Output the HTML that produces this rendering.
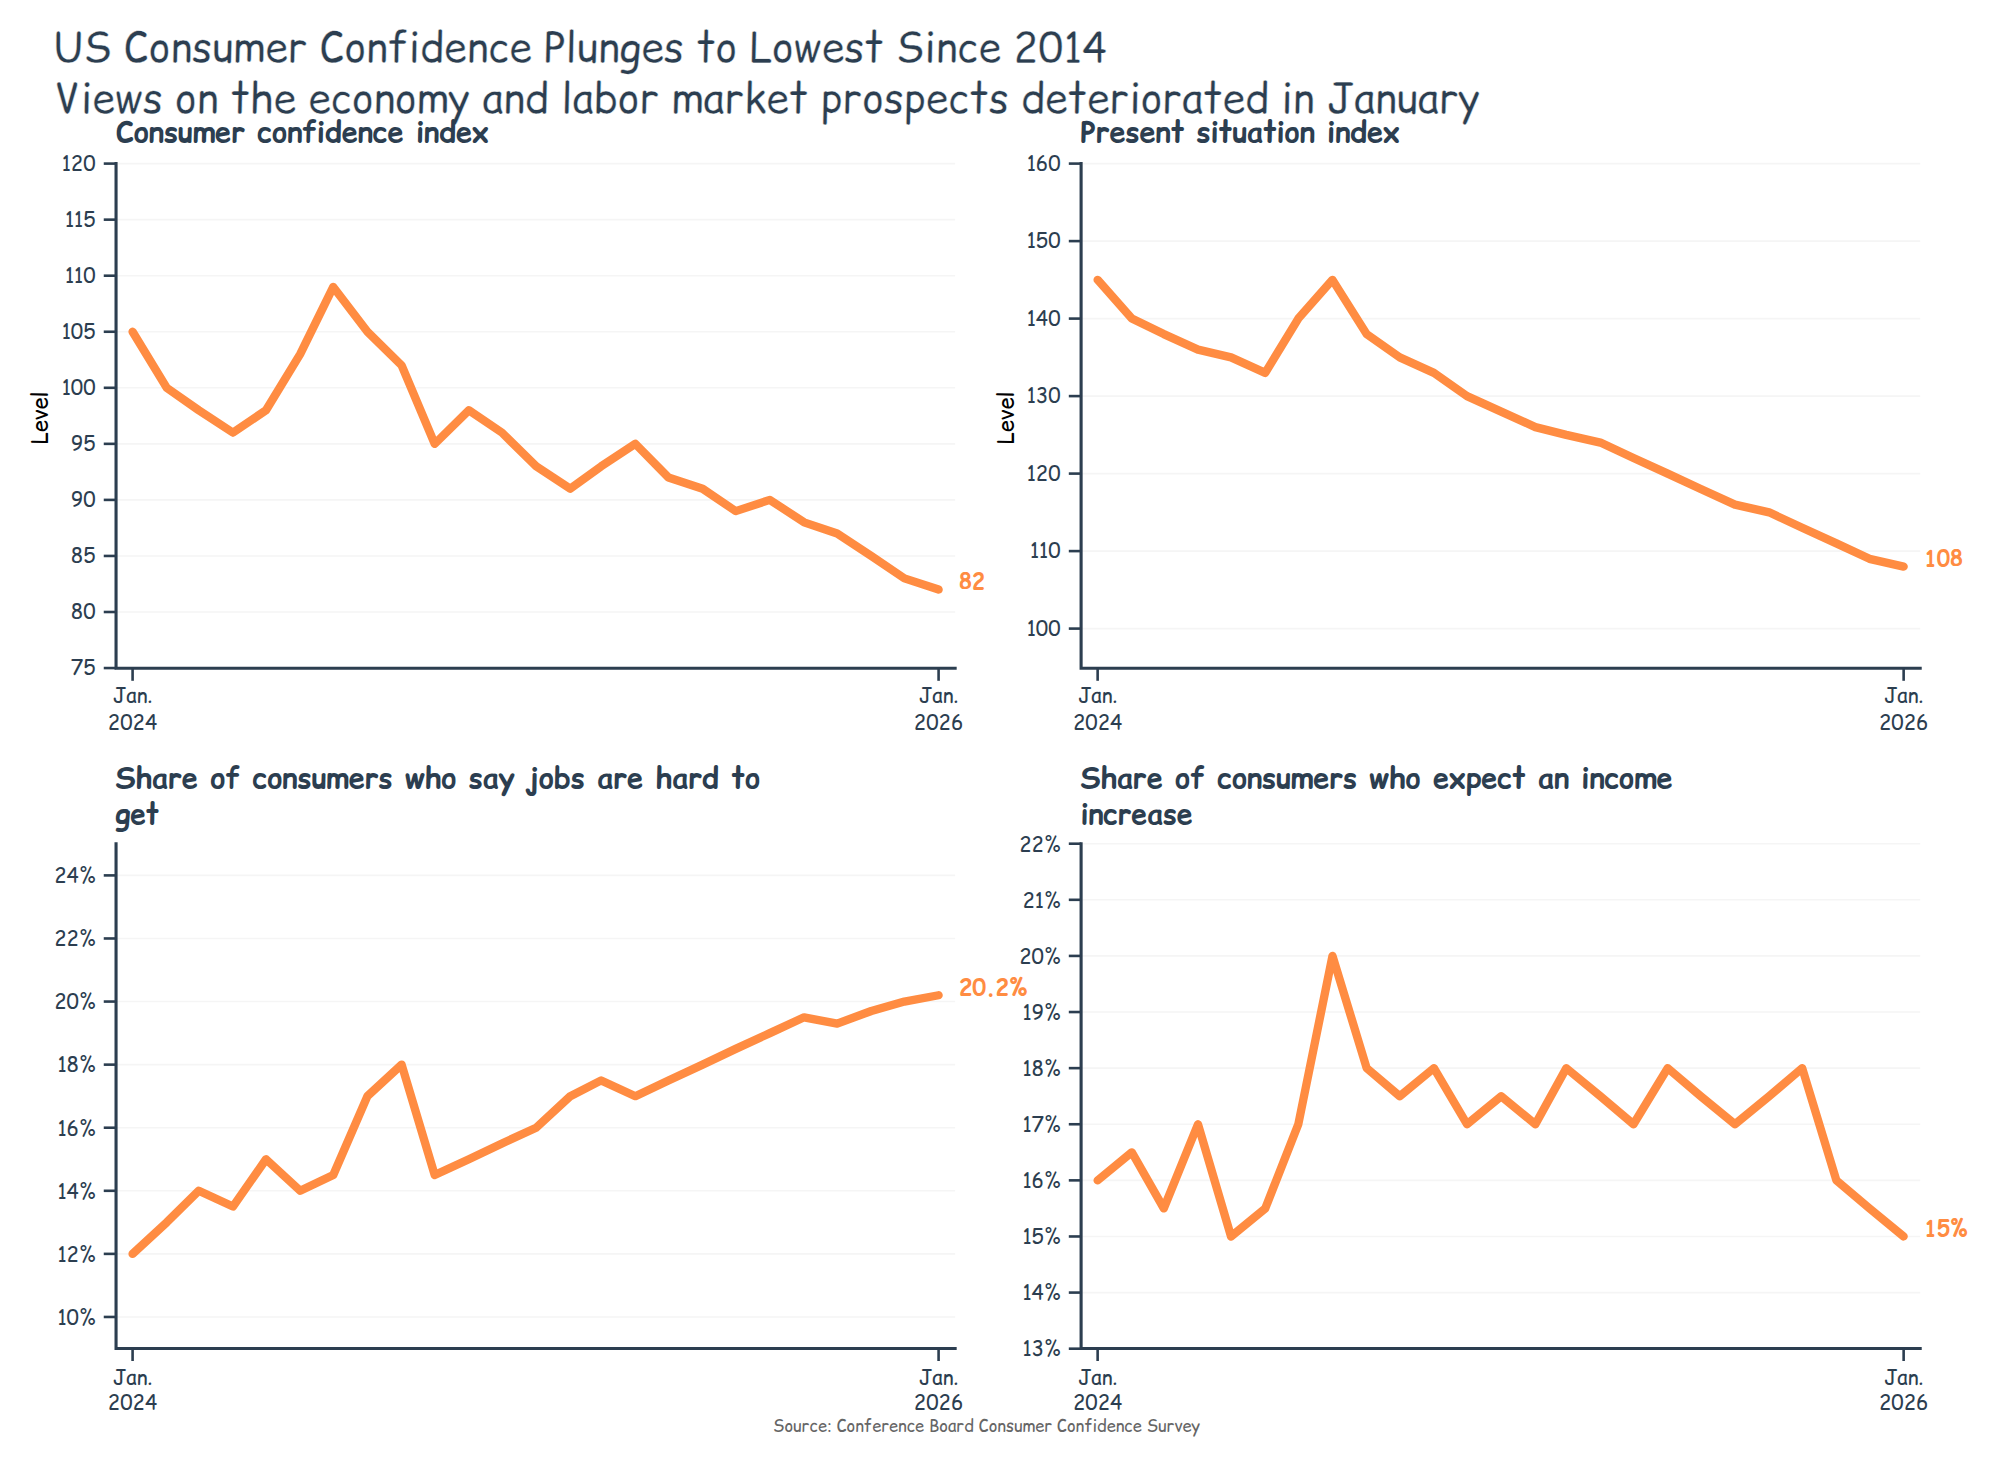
<!DOCTYPE html>
<html><head><meta charset="utf-8"><title>US Consumer Confidence Plunges to Lowest Since 2014</title>
<style>
html,body{margin:0;padding:0;background:#fff;}
svg{display:block;}
text{font-family:'Comic Relief', 'Comic Neue', 'Liberation Sans', sans-serif;}
.t1{font-size:42.3px;fill:#2c3e50;stroke:#fff;stroke-width:0.4px;}
.st{font-size:29.17px;font-weight:bold;fill:#2c3e50;}
.tk{font-size:21.5px;fill:#2c3e50;}
.lab{font-size:22.0px;font-weight:bold;fill:#ff8c42;}
.yl{font-size:22.5px;fill:#000;}
.src{font-size:16.67px;fill:#666;}
</style></head>
<body>
<svg width="1999" height="1467" viewBox="0 0 1999 1467">
<rect width="1999" height="1467" fill="#fff"/>
<text x="53" y="62" class="t1" textLength="1054" lengthAdjust="spacingAndGlyphs">US Consumer Confidence Plunges to Lowest Since 2014</text>
<text x="54" y="113" class="t1" textLength="1426" lengthAdjust="spacingAndGlyphs">Views on the economy and labor market prospects deteriorated in January</text>
<text x="116" y="142.3" class="st" textLength="373" lengthAdjust="spacingAndGlyphs">Consumer confidence index</text>
<text x="1080.5" y="142.3" class="st" textLength="319.5" lengthAdjust="spacingAndGlyphs">Present situation index</text>
<text x="115.5" y="788" class="st" textLength="644.5" lengthAdjust="spacingAndGlyphs">Share of consumers who say jobs are hard to</text>
<text x="115.5" y="823.5" class="st" textLength="43.5" lengthAdjust="spacingAndGlyphs">get</text>
<text x="1080.5" y="788" class="st" textLength="592" lengthAdjust="spacingAndGlyphs">Share of consumers who expect an income</text>
<text x="1080.5" y="823.5" class="st" textLength="112" lengthAdjust="spacingAndGlyphs">increase</text>
<line x1="116.05" y1="668.05" x2="955.13" y2="668.05" stroke="#f5f5f5" stroke-width="1.6"/>
<line x1="116.05" y1="612.00" x2="955.13" y2="612.00" stroke="#f5f5f5" stroke-width="1.6"/>
<line x1="116.05" y1="555.95" x2="955.13" y2="555.95" stroke="#f5f5f5" stroke-width="1.6"/>
<line x1="116.05" y1="499.90" x2="955.13" y2="499.90" stroke="#f5f5f5" stroke-width="1.6"/>
<line x1="116.05" y1="443.85" x2="955.13" y2="443.85" stroke="#f5f5f5" stroke-width="1.6"/>
<line x1="116.05" y1="387.80" x2="955.13" y2="387.80" stroke="#f5f5f5" stroke-width="1.6"/>
<line x1="116.05" y1="331.75" x2="955.13" y2="331.75" stroke="#f5f5f5" stroke-width="1.6"/>
<line x1="116.05" y1="275.70" x2="955.13" y2="275.70" stroke="#f5f5f5" stroke-width="1.6"/>
<line x1="116.05" y1="219.65" x2="955.13" y2="219.65" stroke="#f5f5f5" stroke-width="1.6"/>
<line x1="116.05" y1="163.60" x2="955.13" y2="163.60" stroke="#f5f5f5" stroke-width="1.6"/>
<polyline points="132.59,331.75 166.77,387.80 198.75,410.22 232.93,432.64 266.00,410.22 300.18,354.17 333.26,286.91 367.44,331.75 401.62,365.38 434.70,443.85 468.88,410.22 501.96,432.64 536.14,466.27 570.32,488.69 601.19,466.27 635.37,443.85 668.45,477.48 702.63,488.69 735.71,511.11 769.89,499.90 804.07,522.32 837.15,533.53 871.33,555.95 904.41,578.37 938.59,589.58" fill="none" stroke="#ff8c42" stroke-width="8.33" stroke-linecap="round" stroke-linejoin="round"/>
<path d="M116.05,163.60 L116.05,668.30 L955.13,668.30" fill="none" stroke="#2c3e50" stroke-width="3.1" stroke-linecap="square" stroke-linejoin="miter"/>
<line x1="103.75" y1="668.05" x2="116.05" y2="668.05" stroke="#2c3e50" stroke-width="2.6"/>
<text transform="translate(95.55,675.05) scale(0.943,1)" class="tk" text-anchor="end">75</text>
<line x1="103.75" y1="612.00" x2="116.05" y2="612.00" stroke="#2c3e50" stroke-width="2.6"/>
<text transform="translate(95.55,619.00) scale(0.943,1)" class="tk" text-anchor="end">80</text>
<line x1="103.75" y1="555.95" x2="116.05" y2="555.95" stroke="#2c3e50" stroke-width="2.6"/>
<text transform="translate(95.55,562.95) scale(0.943,1)" class="tk" text-anchor="end">85</text>
<line x1="103.75" y1="499.90" x2="116.05" y2="499.90" stroke="#2c3e50" stroke-width="2.6"/>
<text transform="translate(95.55,506.90) scale(0.943,1)" class="tk" text-anchor="end">90</text>
<line x1="103.75" y1="443.85" x2="116.05" y2="443.85" stroke="#2c3e50" stroke-width="2.6"/>
<text transform="translate(95.55,450.85) scale(0.943,1)" class="tk" text-anchor="end">95</text>
<line x1="103.75" y1="387.80" x2="116.05" y2="387.80" stroke="#2c3e50" stroke-width="2.6"/>
<text transform="translate(95.55,394.80) scale(0.943,1)" class="tk" text-anchor="end">100</text>
<line x1="103.75" y1="331.75" x2="116.05" y2="331.75" stroke="#2c3e50" stroke-width="2.6"/>
<text transform="translate(95.55,338.75) scale(0.943,1)" class="tk" text-anchor="end">105</text>
<line x1="103.75" y1="275.70" x2="116.05" y2="275.70" stroke="#2c3e50" stroke-width="2.6"/>
<text transform="translate(95.55,282.70) scale(0.943,1)" class="tk" text-anchor="end">110</text>
<line x1="103.75" y1="219.65" x2="116.05" y2="219.65" stroke="#2c3e50" stroke-width="2.6"/>
<text transform="translate(95.55,226.65) scale(0.943,1)" class="tk" text-anchor="end">115</text>
<line x1="103.75" y1="163.60" x2="116.05" y2="163.60" stroke="#2c3e50" stroke-width="2.6"/>
<text transform="translate(95.55,170.60) scale(0.943,1)" class="tk" text-anchor="end">120</text>
<line x1="132.59" y1="668.30" x2="132.59" y2="680.80" stroke="#2c3e50" stroke-width="2.6"/>
<text transform="translate(132.59,703.00) scale(0.943,1)" class="tk" text-anchor="middle">Jan.</text>
<text transform="translate(132.59,729.50) scale(0.943,1)" class="tk" text-anchor="middle">2024</text>
<line x1="938.59" y1="668.30" x2="938.59" y2="680.80" stroke="#2c3e50" stroke-width="2.6"/>
<text transform="translate(938.59,703.00) scale(0.943,1)" class="tk" text-anchor="middle">Jan.</text>
<text transform="translate(938.59,729.50) scale(0.943,1)" class="tk" text-anchor="middle">2026</text>
<text transform="translate(959.09,588.68) scale(0.96,1)" class="lab">82</text>
<text class="yl" text-anchor="middle" transform="translate(48.05,417.95) rotate(-90) scale(0.975,1)">Level</text>
<line x1="1081.10" y1="628.60" x2="1920.18" y2="628.60" stroke="#f5f5f5" stroke-width="1.6"/>
<line x1="1081.10" y1="551.10" x2="1920.18" y2="551.10" stroke="#f5f5f5" stroke-width="1.6"/>
<line x1="1081.10" y1="473.60" x2="1920.18" y2="473.60" stroke="#f5f5f5" stroke-width="1.6"/>
<line x1="1081.10" y1="396.10" x2="1920.18" y2="396.10" stroke="#f5f5f5" stroke-width="1.6"/>
<line x1="1081.10" y1="318.60" x2="1920.18" y2="318.60" stroke="#f5f5f5" stroke-width="1.6"/>
<line x1="1081.10" y1="241.10" x2="1920.18" y2="241.10" stroke="#f5f5f5" stroke-width="1.6"/>
<line x1="1081.10" y1="163.60" x2="1920.18" y2="163.60" stroke="#f5f5f5" stroke-width="1.6"/>
<polyline points="1097.64,279.85 1131.82,318.60 1163.79,334.10 1197.98,349.60 1231.05,357.35 1265.23,372.85 1298.31,318.60 1332.49,279.85 1366.67,334.10 1399.75,357.35 1433.93,372.85 1467.01,396.10 1501.19,411.60 1535.37,427.10 1566.24,434.85 1600.42,442.60 1633.50,458.10 1667.68,473.60 1700.76,489.10 1734.94,504.60 1769.12,512.35 1802.20,527.85 1836.38,543.35 1869.46,558.85 1903.64,566.60" fill="none" stroke="#ff8c42" stroke-width="8.33" stroke-linecap="round" stroke-linejoin="round"/>
<path d="M1081.10,163.60 L1081.10,668.30 L1920.18,668.30" fill="none" stroke="#2c3e50" stroke-width="3.1" stroke-linecap="square" stroke-linejoin="miter"/>
<line x1="1068.80" y1="628.60" x2="1081.10" y2="628.60" stroke="#2c3e50" stroke-width="2.6"/>
<text transform="translate(1060.60,635.60) scale(0.943,1)" class="tk" text-anchor="end">100</text>
<line x1="1068.80" y1="551.10" x2="1081.10" y2="551.10" stroke="#2c3e50" stroke-width="2.6"/>
<text transform="translate(1060.60,558.10) scale(0.943,1)" class="tk" text-anchor="end">110</text>
<line x1="1068.80" y1="473.60" x2="1081.10" y2="473.60" stroke="#2c3e50" stroke-width="2.6"/>
<text transform="translate(1060.60,480.60) scale(0.943,1)" class="tk" text-anchor="end">120</text>
<line x1="1068.80" y1="396.10" x2="1081.10" y2="396.10" stroke="#2c3e50" stroke-width="2.6"/>
<text transform="translate(1060.60,403.10) scale(0.943,1)" class="tk" text-anchor="end">130</text>
<line x1="1068.80" y1="318.60" x2="1081.10" y2="318.60" stroke="#2c3e50" stroke-width="2.6"/>
<text transform="translate(1060.60,325.60) scale(0.943,1)" class="tk" text-anchor="end">140</text>
<line x1="1068.80" y1="241.10" x2="1081.10" y2="241.10" stroke="#2c3e50" stroke-width="2.6"/>
<text transform="translate(1060.60,248.10) scale(0.943,1)" class="tk" text-anchor="end">150</text>
<line x1="1068.80" y1="163.60" x2="1081.10" y2="163.60" stroke="#2c3e50" stroke-width="2.6"/>
<text transform="translate(1060.60,170.60) scale(0.943,1)" class="tk" text-anchor="end">160</text>
<line x1="1097.64" y1="668.30" x2="1097.64" y2="680.80" stroke="#2c3e50" stroke-width="2.6"/>
<text transform="translate(1097.64,703.00) scale(0.943,1)" class="tk" text-anchor="middle">Jan.</text>
<text transform="translate(1097.64,729.50) scale(0.943,1)" class="tk" text-anchor="middle">2024</text>
<line x1="1903.64" y1="668.30" x2="1903.64" y2="680.80" stroke="#2c3e50" stroke-width="2.6"/>
<text transform="translate(1903.64,703.00) scale(0.943,1)" class="tk" text-anchor="middle">Jan.</text>
<text transform="translate(1903.64,729.50) scale(0.943,1)" class="tk" text-anchor="middle">2026</text>
<text transform="translate(1924.14,565.70) scale(0.96,1)" class="lab">108</text>
<text class="yl" text-anchor="middle" transform="translate(1013.90,417.95) rotate(-90) scale(0.975,1)">Level</text>
<line x1="116.05" y1="1316.96" x2="955.13" y2="1316.96" stroke="#f5f5f5" stroke-width="1.6"/>
<line x1="116.05" y1="1253.88" x2="955.13" y2="1253.88" stroke="#f5f5f5" stroke-width="1.6"/>
<line x1="116.05" y1="1190.80" x2="955.13" y2="1190.80" stroke="#f5f5f5" stroke-width="1.6"/>
<line x1="116.05" y1="1127.72" x2="955.13" y2="1127.72" stroke="#f5f5f5" stroke-width="1.6"/>
<line x1="116.05" y1="1064.64" x2="955.13" y2="1064.64" stroke="#f5f5f5" stroke-width="1.6"/>
<line x1="116.05" y1="1001.56" x2="955.13" y2="1001.56" stroke="#f5f5f5" stroke-width="1.6"/>
<line x1="116.05" y1="938.48" x2="955.13" y2="938.48" stroke="#f5f5f5" stroke-width="1.6"/>
<line x1="116.05" y1="875.40" x2="955.13" y2="875.40" stroke="#f5f5f5" stroke-width="1.6"/>
<polyline points="132.59,1253.88 166.77,1222.34 198.75,1190.80 232.93,1206.57 266.00,1159.26 300.18,1190.80 333.26,1175.03 367.44,1096.18 401.62,1064.64 434.70,1175.03 468.88,1159.26 501.96,1143.49 536.14,1127.72 570.32,1096.18 601.19,1080.41 635.37,1096.18 668.45,1080.41 702.63,1064.64 735.71,1048.87 769.89,1033.10 804.07,1017.33 837.15,1023.64 871.33,1011.02 904.41,1001.56 938.59,995.25" fill="none" stroke="#ff8c42" stroke-width="8.33" stroke-linecap="round" stroke-linejoin="round"/>
<path d="M116.05,843.80 L116.05,1348.50 L955.13,1348.50" fill="none" stroke="#2c3e50" stroke-width="3.1" stroke-linecap="square" stroke-linejoin="miter"/>
<line x1="103.75" y1="1316.96" x2="116.05" y2="1316.96" stroke="#2c3e50" stroke-width="2.6"/>
<text transform="translate(95.55,1324.76) scale(0.943,1)" class="tk" text-anchor="end">10%</text>
<line x1="103.75" y1="1253.88" x2="116.05" y2="1253.88" stroke="#2c3e50" stroke-width="2.6"/>
<text transform="translate(95.55,1261.68) scale(0.943,1)" class="tk" text-anchor="end">12%</text>
<line x1="103.75" y1="1190.80" x2="116.05" y2="1190.80" stroke="#2c3e50" stroke-width="2.6"/>
<text transform="translate(95.55,1198.60) scale(0.943,1)" class="tk" text-anchor="end">14%</text>
<line x1="103.75" y1="1127.72" x2="116.05" y2="1127.72" stroke="#2c3e50" stroke-width="2.6"/>
<text transform="translate(95.55,1135.52) scale(0.943,1)" class="tk" text-anchor="end">16%</text>
<line x1="103.75" y1="1064.64" x2="116.05" y2="1064.64" stroke="#2c3e50" stroke-width="2.6"/>
<text transform="translate(95.55,1072.44) scale(0.943,1)" class="tk" text-anchor="end">18%</text>
<line x1="103.75" y1="1001.56" x2="116.05" y2="1001.56" stroke="#2c3e50" stroke-width="2.6"/>
<text transform="translate(95.55,1009.36) scale(0.943,1)" class="tk" text-anchor="end">20%</text>
<line x1="103.75" y1="938.48" x2="116.05" y2="938.48" stroke="#2c3e50" stroke-width="2.6"/>
<text transform="translate(95.55,946.28) scale(0.943,1)" class="tk" text-anchor="end">22%</text>
<line x1="103.75" y1="875.40" x2="116.05" y2="875.40" stroke="#2c3e50" stroke-width="2.6"/>
<text transform="translate(95.55,883.20) scale(0.943,1)" class="tk" text-anchor="end">24%</text>
<line x1="132.59" y1="1348.50" x2="132.59" y2="1361.00" stroke="#2c3e50" stroke-width="2.6"/>
<text transform="translate(132.59,1384.50) scale(0.943,1)" class="tk" text-anchor="middle">Jan.</text>
<text transform="translate(132.59,1409.70) scale(0.943,1)" class="tk" text-anchor="middle">2024</text>
<line x1="938.59" y1="1348.50" x2="938.59" y2="1361.00" stroke="#2c3e50" stroke-width="2.6"/>
<text transform="translate(938.59,1384.50) scale(0.943,1)" class="tk" text-anchor="middle">Jan.</text>
<text transform="translate(938.59,1409.70) scale(0.943,1)" class="tk" text-anchor="middle">2026</text>
<text transform="translate(959.09,995.05) scale(1.0,1)" class="lab">20.2%</text>
<line x1="1081.10" y1="1348.69" x2="1920.18" y2="1348.69" stroke="#f5f5f5" stroke-width="1.6"/>
<line x1="1081.10" y1="1292.58" x2="1920.18" y2="1292.58" stroke="#f5f5f5" stroke-width="1.6"/>
<line x1="1081.10" y1="1236.47" x2="1920.18" y2="1236.47" stroke="#f5f5f5" stroke-width="1.6"/>
<line x1="1081.10" y1="1180.36" x2="1920.18" y2="1180.36" stroke="#f5f5f5" stroke-width="1.6"/>
<line x1="1081.10" y1="1124.25" x2="1920.18" y2="1124.25" stroke="#f5f5f5" stroke-width="1.6"/>
<line x1="1081.10" y1="1068.14" x2="1920.18" y2="1068.14" stroke="#f5f5f5" stroke-width="1.6"/>
<line x1="1081.10" y1="1012.03" x2="1920.18" y2="1012.03" stroke="#f5f5f5" stroke-width="1.6"/>
<line x1="1081.10" y1="955.92" x2="1920.18" y2="955.92" stroke="#f5f5f5" stroke-width="1.6"/>
<line x1="1081.10" y1="899.81" x2="1920.18" y2="899.81" stroke="#f5f5f5" stroke-width="1.6"/>
<line x1="1081.10" y1="843.70" x2="1920.18" y2="843.70" stroke="#f5f5f5" stroke-width="1.6"/>
<polyline points="1097.64,1180.36 1131.82,1152.31 1163.79,1208.41 1197.98,1124.25 1231.05,1236.47 1265.23,1208.41 1298.31,1124.25 1332.49,955.92 1366.67,1068.14 1399.75,1096.20 1433.93,1068.14 1467.01,1124.25 1501.19,1096.20 1535.37,1124.25 1566.24,1068.14 1600.42,1096.20 1633.50,1124.25 1667.68,1068.14 1700.76,1096.20 1734.94,1124.25 1769.12,1096.20 1802.20,1068.14 1836.38,1180.36 1869.46,1208.41 1903.64,1236.47" fill="none" stroke="#ff8c42" stroke-width="8.33" stroke-linecap="round" stroke-linejoin="round"/>
<path d="M1081.10,843.80 L1081.10,1348.50 L1920.18,1348.50" fill="none" stroke="#2c3e50" stroke-width="3.1" stroke-linecap="square" stroke-linejoin="miter"/>
<line x1="1068.80" y1="1348.69" x2="1081.10" y2="1348.69" stroke="#2c3e50" stroke-width="2.6"/>
<text transform="translate(1060.60,1356.49) scale(0.943,1)" class="tk" text-anchor="end">13%</text>
<line x1="1068.80" y1="1292.58" x2="1081.10" y2="1292.58" stroke="#2c3e50" stroke-width="2.6"/>
<text transform="translate(1060.60,1300.38) scale(0.943,1)" class="tk" text-anchor="end">14%</text>
<line x1="1068.80" y1="1236.47" x2="1081.10" y2="1236.47" stroke="#2c3e50" stroke-width="2.6"/>
<text transform="translate(1060.60,1244.27) scale(0.943,1)" class="tk" text-anchor="end">15%</text>
<line x1="1068.80" y1="1180.36" x2="1081.10" y2="1180.36" stroke="#2c3e50" stroke-width="2.6"/>
<text transform="translate(1060.60,1188.16) scale(0.943,1)" class="tk" text-anchor="end">16%</text>
<line x1="1068.80" y1="1124.25" x2="1081.10" y2="1124.25" stroke="#2c3e50" stroke-width="2.6"/>
<text transform="translate(1060.60,1132.05) scale(0.943,1)" class="tk" text-anchor="end">17%</text>
<line x1="1068.80" y1="1068.14" x2="1081.10" y2="1068.14" stroke="#2c3e50" stroke-width="2.6"/>
<text transform="translate(1060.60,1075.94) scale(0.943,1)" class="tk" text-anchor="end">18%</text>
<line x1="1068.80" y1="1012.03" x2="1081.10" y2="1012.03" stroke="#2c3e50" stroke-width="2.6"/>
<text transform="translate(1060.60,1019.83) scale(0.943,1)" class="tk" text-anchor="end">19%</text>
<line x1="1068.80" y1="955.92" x2="1081.10" y2="955.92" stroke="#2c3e50" stroke-width="2.6"/>
<text transform="translate(1060.60,963.72) scale(0.943,1)" class="tk" text-anchor="end">20%</text>
<line x1="1068.80" y1="899.81" x2="1081.10" y2="899.81" stroke="#2c3e50" stroke-width="2.6"/>
<text transform="translate(1060.60,907.61) scale(0.943,1)" class="tk" text-anchor="end">21%</text>
<line x1="1068.80" y1="843.70" x2="1081.10" y2="843.70" stroke="#2c3e50" stroke-width="2.6"/>
<text transform="translate(1060.60,851.50) scale(0.943,1)" class="tk" text-anchor="end">22%</text>
<line x1="1097.64" y1="1348.50" x2="1097.64" y2="1361.00" stroke="#2c3e50" stroke-width="2.6"/>
<text transform="translate(1097.64,1384.50) scale(0.943,1)" class="tk" text-anchor="middle">Jan.</text>
<text transform="translate(1097.64,1409.70) scale(0.943,1)" class="tk" text-anchor="middle">2024</text>
<line x1="1903.64" y1="1348.50" x2="1903.64" y2="1361.00" stroke="#2c3e50" stroke-width="2.6"/>
<text transform="translate(1903.64,1384.50) scale(0.943,1)" class="tk" text-anchor="middle">Jan.</text>
<text transform="translate(1903.64,1409.70) scale(0.943,1)" class="tk" text-anchor="middle">2026</text>
<text transform="translate(1924.14,1235.57) scale(0.96,1)" class="lab">15%</text>
<text x="773" y="1432" class="src" textLength="427" lengthAdjust="spacingAndGlyphs">Source: Conference Board Consumer Confidence Survey</text>
</svg>
</body></html>
